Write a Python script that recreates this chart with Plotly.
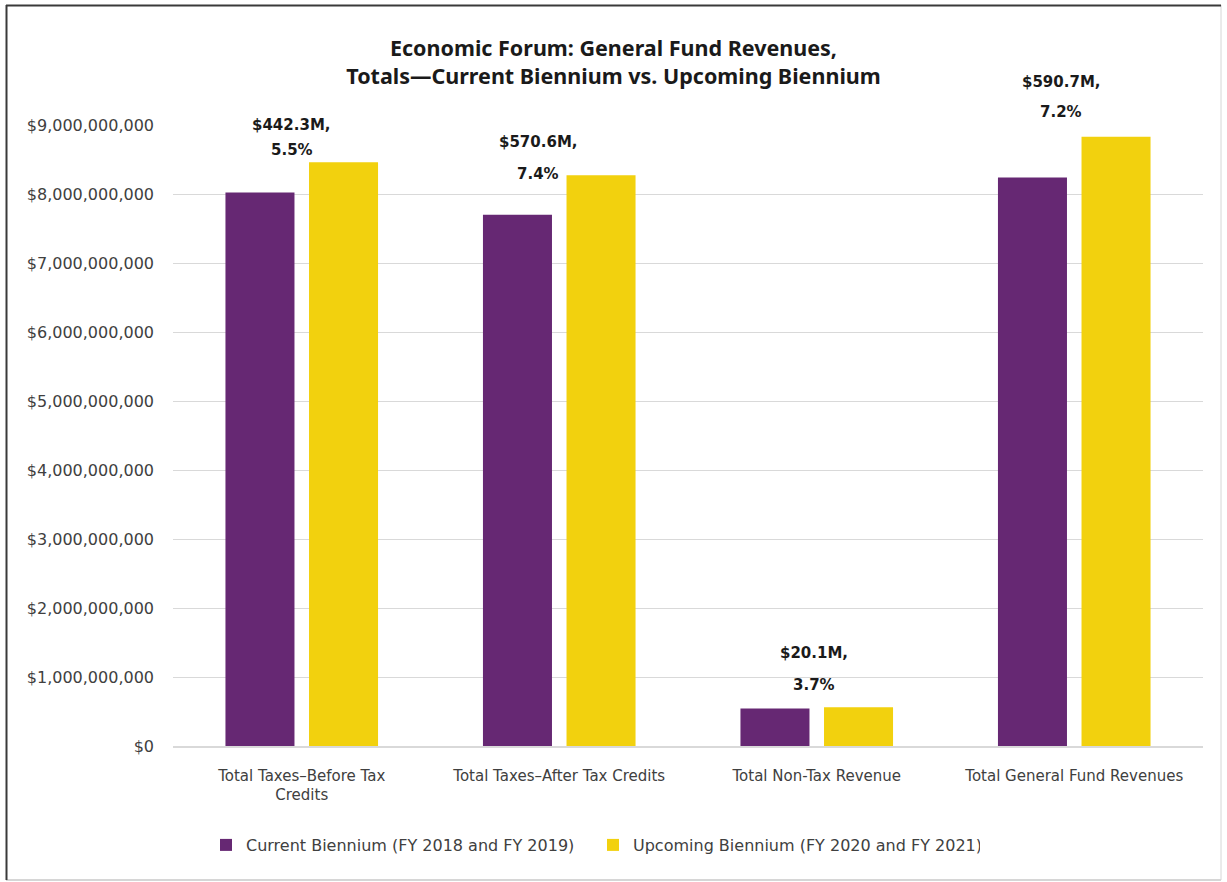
import plotly.graph_objects as go

categories = ["Total Taxes\u2013Before Tax<br>Credits", "Total Taxes\u2013After Tax Credits",
              "Total Non-Tax Revenue", "Total General Fund Revenues"]
current = [8.02e9, 7.70e9, 0.543e9, 8.24e9]
upcoming = [8.46e9, 8.27e9, 0.563e9, 8.83e9]
change_amount = ["$442.3M,", "$570.6M,", "$20.1M,", "$590.7M,"]
change_pct = ["5.5%", "7.4%", "3.7%", "7.2%"]
series_names = ["Current Biennium (FY 2018 and FY 2019)", "Upcoming Biennium (FY 2020 and FY 2021)"]
y_ticks = [i * 1e9 for i in range(10)]
y_tick_text = ["$" + f"{v:,.0f}" for v in y_ticks]

# label offsets (pixels) relative to the top of the upcoming bar at category centre
lab_dx = [-10, -21, -3, -13]
lab_dy1 = [37, 33, 54, 55]
lab_dy2 = [12, 1, 22, 25]

PURPLE = "#662873"
YELLOW = "#F2D10E"
TXT = "#404040"

fig = go.Figure()
fig.add_trace(go.Bar(x=categories, y=current, name=series_names[0], marker_color=PURPLE,
                     marker_line_width=0))
fig.add_trace(go.Bar(x=categories, y=upcoming, name=series_names[1], marker_color=YELLOW,
                     marker_line_width=0))

for i, c in enumerate(categories):
    for txt, dy in ((change_amount[i], lab_dy1[i]), (change_pct[i], lab_dy2[i])):
        fig.add_annotation(x=c, y=upcoming[i], text=txt, showarrow=False,
                           xanchor="center", yanchor="middle", xshift=lab_dx[i], yshift=dy,
                           font=dict(family="DejaVu Sans", size=15, color="#1a1a1a", weight="bold"))

L, R, T, B = 173, 24, 125, 136
W, H = 1227, 882
pw, ph = W - L - R, H - T - B

def px2x(px):
    return (px - L) / pw

def py2y(py):
    return (H - B - py) / ph

# chart border
fig.add_shape(type="line", xref="paper", yref="paper", x0=px2x(1221), x1=px2x(1221),
              y0=py2y(5), y1=py2y(880), line=dict(color="#d6d6d6", width=1))
fig.add_shape(type="line", xref="paper", yref="paper", x0=px2x(6), x1=px2x(1221),
              y0=py2y(880), y1=py2y(880), line=dict(color="#d6d6d6", width=2))
fig.add_shape(type="line", xref="paper", yref="paper", x0=px2x(6.5), x1=px2x(6.5),
              y0=py2y(5), y1=py2y(880), line=dict(color="#3a3a3a", width=2))
fig.add_shape(type="line", xref="paper", yref="paper", x0=px2x(6), x1=px2x(1221),
              y0=py2y(5.5), y1=py2y(5.5), line=dict(color="#3a3a3a", width=2))

fig.update_layout(
    width=W, height=H,
    margin=dict(l=L, r=R, t=T, b=B, autoexpand=False),
    paper_bgcolor="white", plot_bgcolor="white",
    barmode="group", bargap=0.351, bargroupgap=0.174,
    title=dict(text="Economic Forum: General Fund Revenues,<br>Totals\u2014Current Biennium vs. Upcoming Biennium",
               x=0.5, xref="container", xanchor="center",
               y=(H - 56) / H, yref="container", yanchor="middle",
               font=dict(family="Noto Sans", size=21.5, color="#1a1a1a", weight="bold")),
    font=dict(family="DejaVu Sans", size=15, color=TXT),
    legend=dict(orientation="h", xref="container", yref="container", x=(613 - 20) / W, xanchor="center",
                y=(H - 845) / H, yanchor="middle", entrywidth=342, entrywidthmode="pixels",
                font=dict(family="DejaVu Sans", size=16, color=TXT)),
    showlegend=True,
)
fig.update_xaxes(showline=True, linecolor="#d9d9d9", linewidth=1.5, ticks="",
                 tickfont=dict(family="DejaVu Sans", size=15, color=TXT), ticklabelstandoff=15)
fig.update_yaxes(range=[0, 9e9], tickvals=y_ticks, ticktext=y_tick_text,
                 showgrid=True, gridcolor="#d9d9d9", gridwidth=1, zeroline=False, showline=False,
                 tickfont=dict(family="DejaVu Sans", size=16, color=TXT), ticklabelstandoff=18)

fig.write_html("out.html")
